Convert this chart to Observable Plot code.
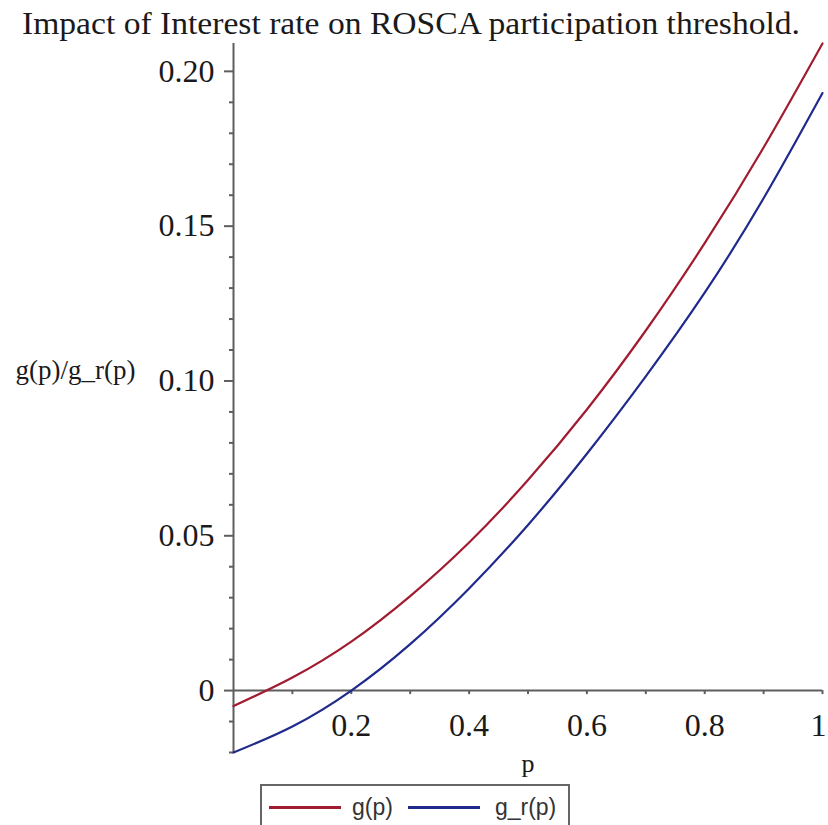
<!DOCTYPE html>
<html><head><meta charset="utf-8">
<script src="https://cdn.jsdelivr.net/npm/d3@7"></script>
<script src="https://cdn.jsdelivr.net/npm/@observablehq/plot@0.6"></script>
<style>
html,body{margin:0;padding:0;background:#fff;}
#wrap{position:relative;width:828px;height:825px;overflow:hidden;}
#title{position:absolute;left:22px;top:8px;font-family:"Liberation Serif",serif;font-size:31px;line-height:1;color:#1a1a1a;white-space:nowrap;transform-origin:0 0;}
#chart{position:absolute;left:0;top:40px;}
#legend{position:absolute;left:260px;top:784px;width:310px;height:46px;box-sizing:border-box;border:2px solid #666;display:flex;align-items:center;font-family:"Liberation Sans",sans-serif;font-size:23px;color:#333;}
#legend .sw{display:inline-block;width:72px;height:3px;}
</style></head><body>
<div id="wrap"><div id="title"></div><div id="chart"></div><div id="legend"></div></div>
<script>
const titleText = "Impact of Interest rate on ROSCA participation threshold.";
const yLabel = "g(p)/g_r(p)";
const xLabel = "p";
const pValues  = [0, 0.1, 0.2, 0.3, 0.4, 0.5, 0.6, 0.7, 0.8, 0.9, 1.0];
const gValues  = [-0.005, 0.0042, 0.0158, 0.0305, 0.0478, 0.0680, 0.0908, 0.1163, 0.1445, 0.1754, 0.2090];
const grValues = [-0.020, -0.0116, 0.0000, 0.0150, 0.0330, 0.0535, 0.0765, 0.1015, 0.1285, 0.1590, 0.1930];
const seriesNames  = ["g(p)", "g_r(p)"];
const seriesColors = ["#a01c30", "#1f2a8c"];
const xTicks = [0.2, 0.4, 0.6, 0.8, 1];
const xTickLabels = ["0.2", "0.4", "0.6", "0.8", "1"];
const xMinor = [0.1, 0.3, 0.5, 0.7, 0.9];
const yTicks = [0, 0.05, 0.10, 0.15, 0.20];
const yTickLabels = ["0", "0.05", "0.10", "0.15", "0.20"];
const yMinor = [-0.02, -0.01, 0.01, 0.02, 0.03, 0.04, 0.06, 0.07, 0.08, 0.09, 0.11, 0.12, 0.13, 0.14, 0.16, 0.17, 0.18, 0.19];
const yDomain = [-0.02, 0.209];
const xDomain = [0, 1];

const titleEl = document.getElementById("title");
titleEl.textContent = titleText;
const tw = titleEl.getBoundingClientRect().width;
titleEl.style.transform = `scaleX(${778 / tw})`;

const axisColor = "#5e5e5e";
const H = 745, mT = 3, mB = 33;
const unitsPerPx = (yDomain[1] - yDomain[0]) / (H - mT - mB);

const data = pValues.flatMap((p, i) => [
  {p, v: gValues[i], s: seriesNames[0]},
  {p, v: grValues[i], s: seriesNames[1]}
]);

const plot = Plot.plot({
  width: 828, height: H,
  marginLeft: 233, marginRight: 6, marginTop: mT, marginBottom: mB,
  x: {domain: xDomain, axis: null},
  y: {domain: yDomain, axis: null},
  color: {domain: seriesNames, range: seriesColors},
  style: {background: "transparent", fontFamily: '"Liberation Serif", serif', color: "#1a1a1a", overflow: "visible"},
  marks: [
    Plot.ruleY([0], {stroke: axisColor, strokeWidth: 2}),
    Plot.ruleX([0], {y1: yDomain[0], y2: yDomain[1], stroke: axisColor, strokeWidth: 2}),
    Plot.axisY(yTicks, {anchor: "left", tickSize: 9, tickPadding: 10, fontSize: 32, label: null,
      tickFormat: d => yTickLabels[yTicks.indexOf(d)], stroke: axisColor, strokeWidth: 2, fill: "#1a1a1a"}),
    Plot.axisY(yMinor, {anchor: "left", tickSize: 4, label: null, fill: "none", stroke: axisColor, strokeWidth: 2}),
    Plot.ruleX(xTicks.concat(xMinor), {x: d => d, y1: 0, y2: -4 * unitsPerPx, stroke: axisColor, strokeWidth: 2}),
    Plot.text(xTicks.slice(0, -1), {x: d => d, y: 0, text: d => xTickLabels[xTicks.indexOf(d)], dy: 45, lineAnchor: "bottom", fontSize: 32, fill: "#1a1a1a"}),
    Plot.text(xTicks.slice(-1), {x: d => d, y: 0, text: d => xTickLabels[xTicks.indexOf(d)], dy: 45, dx: 4, textAnchor: "end", lineAnchor: "bottom", fontSize: 32, fill: "#1a1a1a"}),
    Plot.text([xLabel], {frameAnchor: "bottom", dy: 19, lineAnchor: "bottom", fontSize: 26, fill: "#1a1a1a"}),
    Plot.text([yLabel], {frameAnchor: "top-left", dx: -218, dy: 335, textAnchor: "start", lineAnchor: "bottom", fontSize: 27, fill: "#1a1a1a"}),
    Plot.line(data, {x: "p", y: "v", stroke: "s", z: "s", curve: "natural", strokeWidth: 2.2})
  ]
});
document.getElementById("chart").appendChild(plot);

const legend = document.getElementById("legend");
const gaps = [[7, 11], [15, 15]];
seriesNames.forEach((name, i) => {
  const sw = document.createElement("span");
  sw.className = "sw";
  sw.style.background = seriesColors[i];
  sw.style.marginLeft = gaps[i][0] + "px";
  const t = document.createElement("span");
  t.textContent = name;
  t.style.marginLeft = gaps[i][1] + "px";
  legend.appendChild(sw);
  legend.appendChild(t);
});
</script>
</body></html>
